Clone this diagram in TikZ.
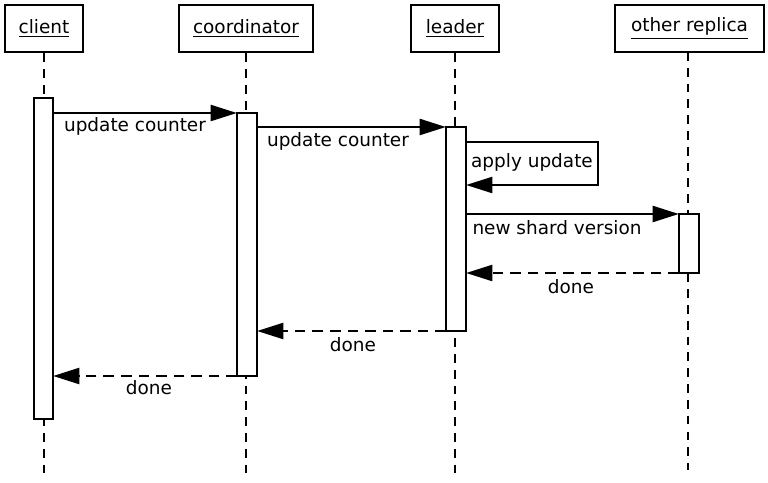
\documentclass[tikz,border=0pt]{standalone}
\usepackage{fontspec}
\setmainfont{DejaVu Sans}
\usetikzlibrary{arrows.meta,positioning}

\tikzset{
  actor/.style={draw,line width=1.7pt,minimum height=47*0.02cm,inner sep=0pt,font=\fontsize{10.5}{12}\selectfont},
  life/.style={dashed,dash pattern=on 5pt off 4pt,line width=0.6pt},
  act/.style={draw,fill=white,line width=1.7pt},
  msg/.style={line width=1.7pt,-{Triangle[length=15pt,width=9pt]}},
  reply/.style={msg,dashed,dash pattern=on 6pt off 4pt},
  lbl/.style={font=\fontsize{10.5}{12}\selectfont,inner sep=1pt}
}

\begin{document}
\begin{tikzpicture}[x=0.02cm,y=-0.02cm]
       \useasboundingbox (0,0) rectangle (768,483);
       % actors
       \node[actor,minimum width=78*0.02cm] (client) at (44,28.5) {\underline{client}};
       \node[actor,minimum width=134*0.02cm] (coord) at (246,28.5) {\underline{coordinator}};
       \node[actor,minimum width=88*0.02cm] (leader) at (455,28.5) {\underline{leader}};
       \node[actor,minimum width=149*0.02cm] (other) at (689.5,28.5) {\underline{other replica}};
       % lifelines
       \draw[life] (client.south) -- (44,480);
       \draw[life] (coord.south) -- (246,480);
       \draw[life] (leader.south) -- (455,480);
       \draw[life] (688,52) -- (688,470);
       % activations
       \draw[act] (34,98) rectangle (53,419);
       \draw[act] (237,113) rectangle (257,376);
       \draw[act] (446,127) rectangle (466,331);
       \draw[act] (679,214) rectangle (699,273);
       % messages
       \coordinate (c1) at (53,113);  \coordinate (k1) at (237,113);
       \coordinate (k2) at (257,127); \coordinate (l1) at (446,127);
       \coordinate (l2) at (466,142); \coordinate (l3) at (466,185);
       \coordinate (l4) at (466,214); \coordinate (o1) at (679,214);
       \coordinate (o2) at (679,273); \coordinate (l5) at (466,273);
       \coordinate (l6) at (446,331); \coordinate (k3) at (257,331);
       \coordinate (k4) at (237,376); \coordinate (c2) at (53,376);
       \draw[msg] (c1) -- (k1);
       \draw[msg] (k2) -- (l1);
       \draw[msg] (l2) -- (598,142) -- (598,185) -- (l3);
       \draw[msg] (l4) -- (o1);
       \draw[reply] (o2) -- (l5);
       \draw[reply] (l6) -- (k3);
       \draw[reply] (k4) -- (c2);
       % labels
       \node[lbl] (t1) at (135,126) {update counter};
       \node[lbl] (t2) at (338,141) {update counter};
       \node[lbl] (t3) at (532,162) {apply update};
       \node[lbl] (t4) at (557,228) {new shard version};
       \node[lbl] (t5) at (571,287) {done};
       \node[lbl] (t6) at (353,345) {done};
       \node[lbl] (t7) at (149,388) {done};
     \end{tikzpicture}
\end{document}
